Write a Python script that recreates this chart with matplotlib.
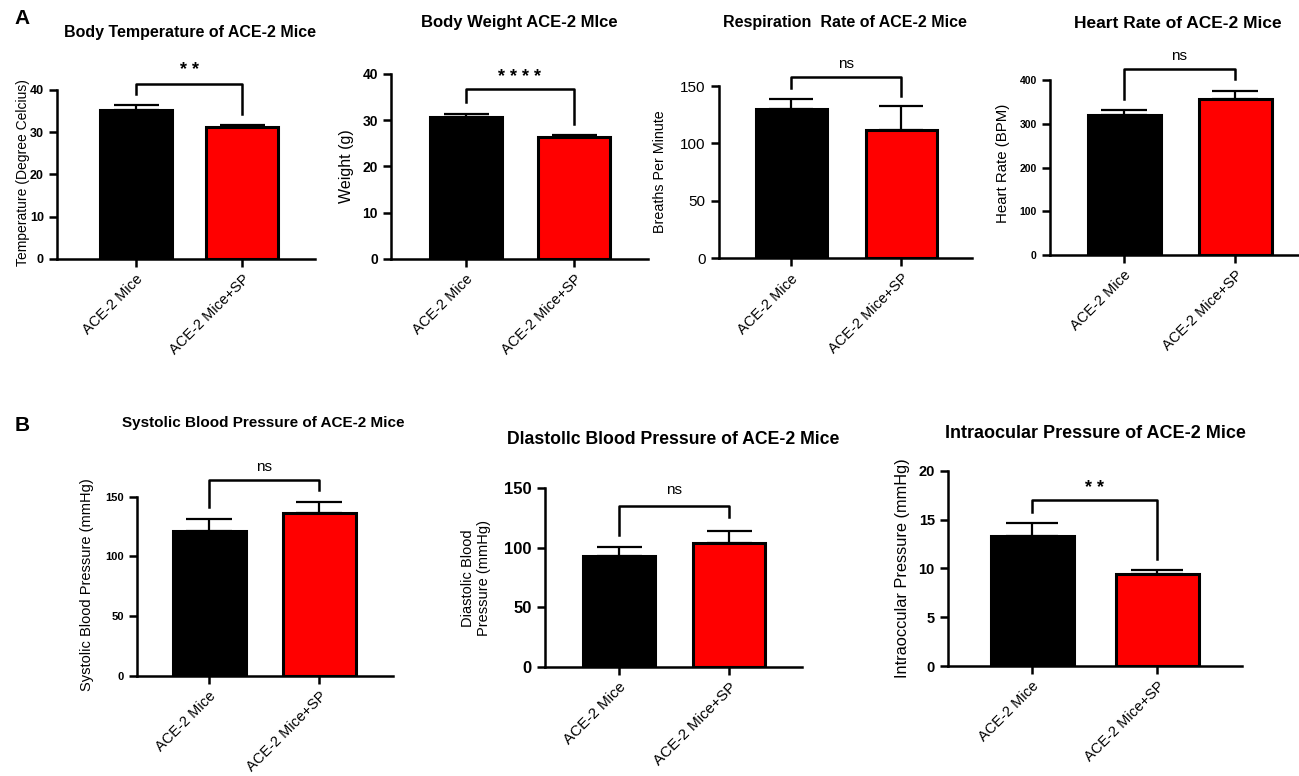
import matplotlib
matplotlib.use("Agg")
import matplotlib.pyplot as plt

plt.rcParams['font.family'] = ['Liberation Sans', 'DejaVu Sans']

groups = ["ACE-2 Mice", "ACE-2 Mice+SP"]
bar_colors = ["black", "red"]

temp_mean = [35.3, 31.2]
temp_sem = [1.2, 0.6]
weight_mean = [30.6, 26.3]
weight_sem = [0.7, 0.5]
resp_mean = [129.7, 111.7]
resp_sem = [8.7, 20.9]
heart_mean = [320, 356.6]
heart_sem = [11, 19]
sys_mean = [121.3, 136.4]
sys_sem = [10.3, 9.2]
dia_mean = [93.1, 104.3]
dia_sem = [7.9, 9.9]
iop_mean = [13.3, 9.45]
iop_sem = [1.3, 0.4]

temp_sig = "* *"
weight_sig = "* * * *"
resp_sig = "ns"
heart_sig = "ns"
sys_sig = "ns"
dia_sig = "ns"
iop_sig = "* *"

W, H = 1299, 776
fig = plt.figure(figsize=(W / 100, H / 100), dpi=100)


def panel(ax_l, ax_r, y0_px, ytop_px, ymax, c1, c2, bw,
          means, sems, sig, brk, legs, sig_y, ticks, tick_fs, tick_bold, cat_fs):
    # axes rect from pixel positions
    ax = fig.add_axes([ax_l / W, 1 - y0_px / H, (ax_r - ax_l) / W, (y0_px - ytop_px) / H])
    ax.patch.set_alpha(0)
    scale = c2 - c1
    ax.set_xlim((ax_l - c1) / scale, (ax_r - c1) / scale)
    ax.set_ylim(0, ymax)
    x = [0, 1]
    ax.bar(x, means, width=bw / scale, color=bar_colors, edgecolor="black",
           linewidth=2.2, zorder=2)
    for i in range(2):
        ax.errorbar(x[i], means[i], yerr=[[0], [sems[i]]], fmt="none",
                    ecolor="black", elinewidth=1.6, capsize=bw * 0.225,
                    capthick=1.6, zorder=1)
    ax.plot([0, 0, 1, 1], [legs[0], brk, brk, legs[1]], color="black", lw=1.8,
            clip_on=False)
    if "*" in sig:
        ax.text(0.5, sig_y, sig, ha="center", va="center", fontsize=13,
                fontweight="bold")
    else:
        ax.text(0.5, sig_y, sig, ha="center", va="center", fontsize=11)
    for s in ["top", "right"]:
        ax.spines[s].set_visible(False)
    ax.spines["left"].set_linewidth(1.8)
    ax.spines["bottom"].set_linewidth(1.8)
    ax.set_yticks(ticks)
    ax.set_xticks(x)
    ax.set_xticklabels(groups, rotation=45, ha="right", rotation_mode="anchor",
                       fontsize=cat_fs)
    ax.tick_params(axis="both", width=1.8, length=6)
    for t in ax.get_yticklabels():
        t.set_fontsize(tick_fs)
        if tick_bold:
            t.set_fontweight("bold")
    return ax


def ftext(x, y, s, **kw):
    fig.text(x / W, 1 - y / H, s, **kw)


# Row A
panel(57, 315, 259, 90, 40, 136, 242, 72, temp_mean, temp_sem, temp_sig,
      41.4, [39.0, 34.3], 44.5, [0, 10, 20, 30, 40], 9, True, 10.5)
panel(391, 648, 258.7, 74, 40, 466, 574, 72, weight_mean, weight_sem, weight_sig,
      36.7, [34.0, 29.1], 39.3, [0, 10, 20, 30, 40], 10, True, 10.5)
panel(719, 972, 258.3, 86, 150, 791, 901, 71, resp_mean, resp_sem, resp_sig,
      157.6, [148, 141.6], 169, [0, 50, 100, 150], 11, False, 10.5)
panel(1050, 1298, 255, 80, 400, 1124, 1235, 73, heart_mean, heart_sem, heart_sig,
      425, [356, 401.6], 455, [0, 100, 200, 300, 400], 7.5, True, 10.5)

# Row B
panel(137, 393, 676, 496.7, 150, 209, 319, 73, sys_mean, sys_sem, sys_sig,
      164, [141, 156], 175, [0, 50, 100, 150], 8, True, 10.5)
panel(545, 802, 666.7, 488.3, 150, 619, 729, 72, dia_mean, dia_sem, dia_sig,
      135.2, [110.8, 125.7], 148.5, [0, 50, 100, 150], 12, True, 11)
panel(948, 1242, 666, 470.7, 20, 1032, 1157, 83, iop_mean, iop_sem, iop_sig,
      17.0, [15.8, 11.0], 18.2, [0, 5, 10, 15, 20], 10.5, True, 10.5)

# titles
ftext(190, 32, "Body Temperature of ACE-2 Mice", ha="center", va="center",
      fontsize=11.5, fontweight="bold")
ftext(519, 22, "Body Weight ACE-2 MIce", ha="center", va="center",
      fontsize=12, fontweight="bold")
ftext(845, 23, "Respiration  Rate of ACE-2 Mice", ha="center", va="center",
      fontsize=11.5, fontweight="bold")
ftext(1178, 23, "Heart Rate of ACE-2 Mice", ha="center", va="center",
      fontsize=12.5, fontweight="bold")
ftext(263, 423, "Systolic Blood Pressure of ACE-2 Mice", ha="center", va="center",
      fontsize=11, fontweight="bold")
ftext(673, 439, "Dlastollc Blood Pressure of ACE-2 Mice", ha="center", va="center",
      fontsize=12.7, fontweight="bold")
ftext(1095, 433, "Intraocular Pressure of ACE-2 Mice", ha="center", va="center",
      fontsize=13, fontweight="bold")

# panel letters
ftext(22, 18, "A", ha="center", va="center", fontsize=15, fontweight="bold")
ftext(22, 425, "B", ha="center", va="center", fontsize=15, fontweight="bold")

# y labels
ftext(23, 173, "Temperature (Degree Celcius)", ha="center", va="center",
      rotation=90, fontsize=10)
ftext(347, 166, "Weight (g)", ha="center", va="center", rotation=90,
      fontsize=11.5)
ftext(660, 172, "Breaths Per Minute", ha="center", va="center", rotation=90,
      fontsize=10.3)
ftext(1003, 163, "Heart Rate (BPM)", ha="center", va="center", rotation=90,
      fontsize=10.8)
ftext(87, 585, "Systolic Blood Pressure (mmHg)", ha="center", va="center",
      rotation=90, fontsize=10.5)
ftext(476, 578, "Diastolic Blood\nPressure (mmHg)", ha="center", va="center",
      rotation=90, fontsize=10.5, linespacing=1.25)
ftext(903, 568, "Intraoccular Pressure (mmHg)", ha="center", va="center",
      rotation=90, fontsize=11.8)

fig.savefig("out.png", dpi=100)
